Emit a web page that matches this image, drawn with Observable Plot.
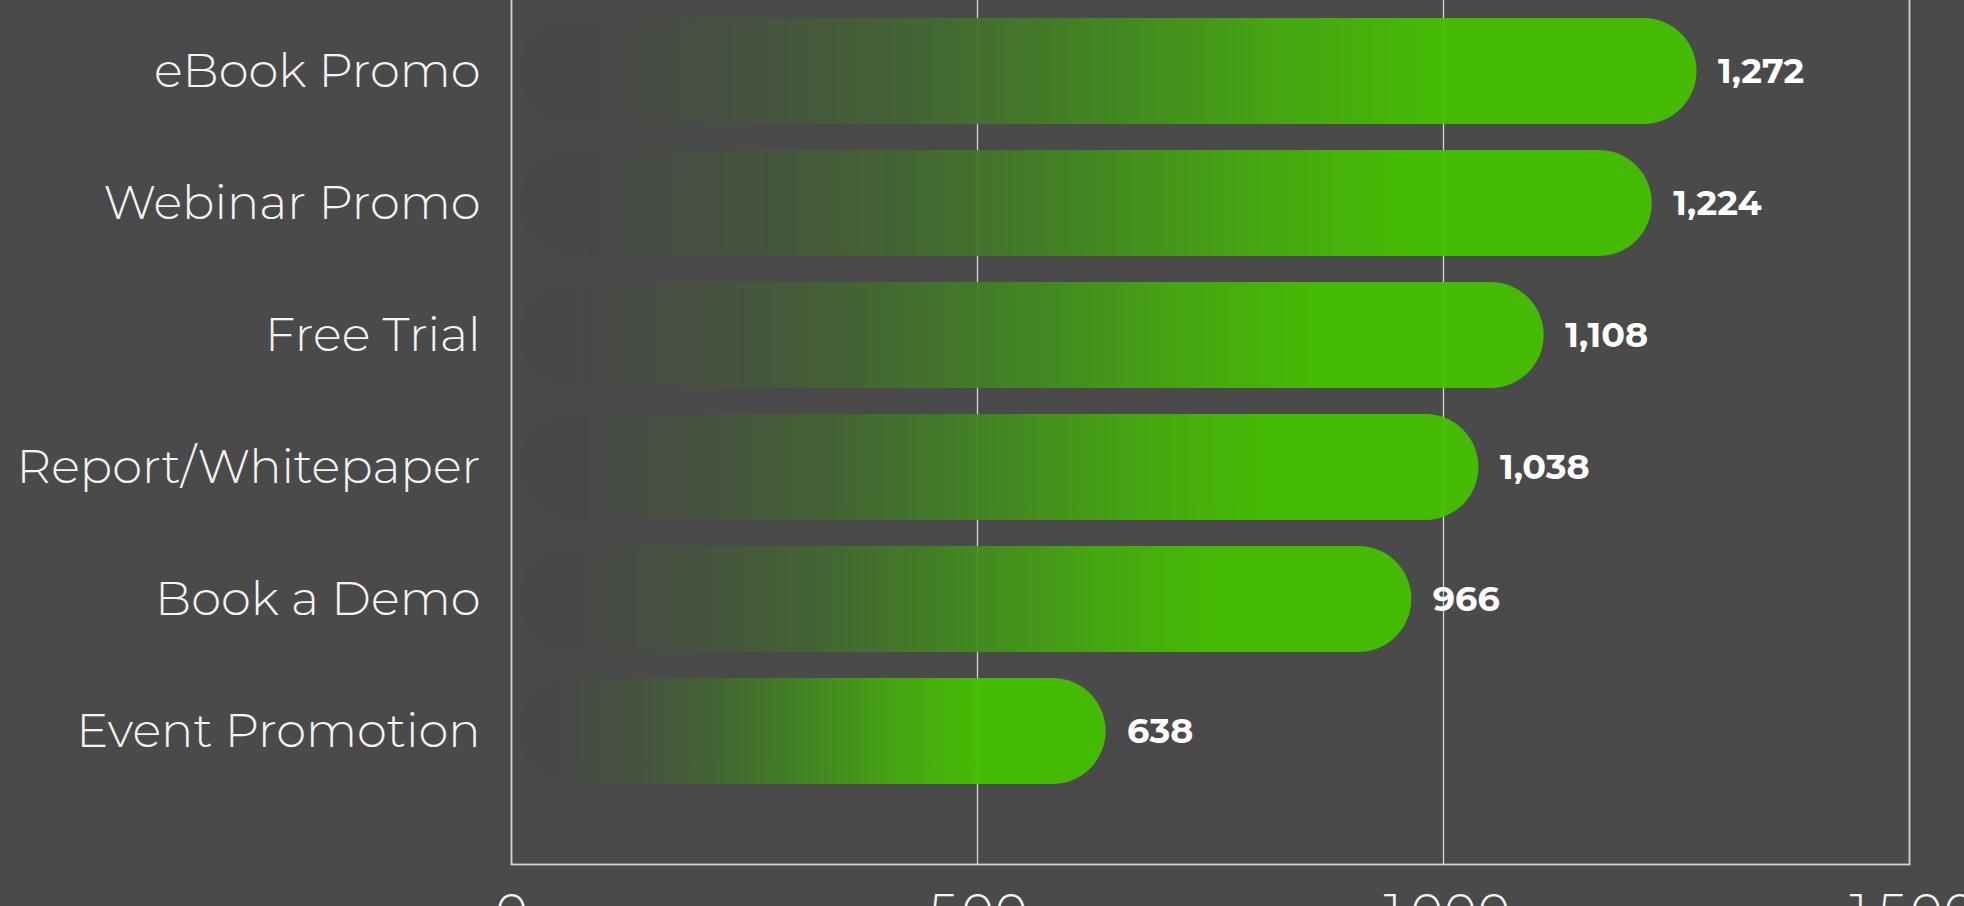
<!DOCTYPE html>
<html>
<head>
<meta charset="utf-8">
<script src="https://cdn.jsdelivr.net/npm/d3@7"></script>
<script src="https://cdn.jsdelivr.net/npm/@observablehq/plot@0.6"></script>
<style>
  html, body { margin: 0; padding: 0; background: #4a4a4a; overflow: hidden; }
  #chart { width: 1964px; height: 906px; }
</style>
</head>
<body>
<div id="chart"></div>
<script>
const categories = ["eBook Promo", "Webinar Promo", "Free Trial", "Report/Whitepaper", "Book a Demo", "Event Promotion"];
const values = [1272, 1224, 1108, 1038, 966, 638];
const xTicks = [0, 500, 1000, 1500];
const gridTicks = [500, 1000];

const data = categories.map((name, i) => ({name, value: values[i]}));

const plot = Plot.plot({
  width: 1964,
  height: 906,
  marginLeft: 511,
  marginRight: 55,
  marginTop: -20,
  marginBottom: 42,
  style: {
    background: "#4a4a4a",
    color: "#f4f4f4",
    fontFamily: "Montserrat, Lato, 'Open Sans', sans-serif",
    fontWeight: 300,
    fontSize: "48px"
  },
  x: {domain: [0, 1500], ticks: xTicks, tickFormat: "d", tickSize: 0, tickPadding: 28, label: null},
  y: {domain: categories, range: [2.5, 799.5], paddingInner: 0.2, paddingOuter: 0.1, tickSize: 0, tickPadding: 31, label: null},
  marks: [
    Plot.ruleX(gridTicks, {stroke: "#d4d4d4", strokeWidth: 1.3}),
    Plot.frame({stroke: "#d4d4d4", strokeWidth: 1.8}),
    Plot.barX(data, {x: "value", y: "name", fill: "url(#barGrad)", fillOpacity: 0.93, rx: 53, insetLeft: 8}),
    Plot.text(data, {
      x: "value", y: "name", text: d => d3.format(",")(d.value),
      dx: 21, textAnchor: "start", fill: "white",
      fontSize: 35, fontWeight: 700, fontFamily: "Montserrat, 'Open Sans', sans-serif"
    })
  ]
});

const defs = d3.select(plot).insert("defs", ":first-child");
const grad = defs.append("linearGradient").attr("id", "barGrad").attr("x1", "0").attr("x2", "1").attr("y1", "0").attr("y2", "0");
[
  [0, "#484848"],
  [0.05, "#484848"],
  [0.18, "#465140"],
  [0.33, "#426532"],
  [0.5, "#428a1f"],
  [0.64, "#46ab0e"],
  [0.78, "#45c300"],
  [1, "#45c300"]
].forEach(([o, c]) => grad.append("stop").attr("offset", o).attr("stop-color", c));

document.getElementById("chart").appendChild(plot);
</script>
</body>
</html>
